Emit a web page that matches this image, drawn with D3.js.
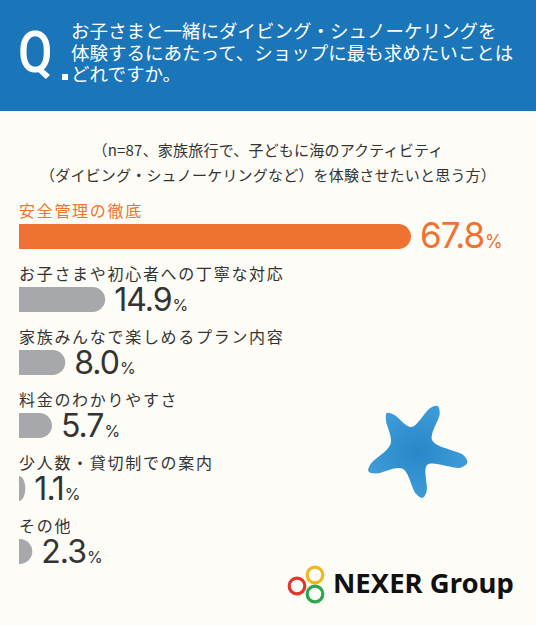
<!DOCTYPE html>
<html>
<head>
<meta charset="utf-8">
<script src="https://cdn.jsdelivr.net/npm/d3@7"></script>
<style>
  body { margin: 0; background: #fdfcf6; }
  svg { display: block; }
</style>
</head>
<body>
<svg class="chart"></svg>
<script>
// survey question + note
var titleLines = [
    "お子さまと一緒にダイビング・シュノーケリングを",
    "体験するにあたって、ショップに最も求めたいことは",
    "どれですか。"
];
var noteLines = [
    "（n=87、家族旅行で、子どもに海のアクティビティ",
    "（ダイビング・シュノーケリングなど）を体験させたいと思う方）"
];

// answers and share (%)
var categories = [
    "安全管理の徹底",
    "お子さまや初心者への丁寧な対応",
    "家族みんなで楽しめるプラン内容",
    "料金のわかりやすさ",
    "少人数・貸切制での案内",
    "その他"
];
var values = [67.8, 14.9, 8.0, 5.7, 1.1, 2.3];

var width = 536, height = 625;
var left = 19;
var jpFont = "'Noto Sans CJK JP', 'Noto Sans', sans-serif";
var numFont = "Inter, Lato, sans-serif";
var orange = "#f07232", grey = "#a7a8ab", ink = "#333333", blue = "#1b76b9";

var svg = d3.select(".chart")
    .attr("width", width)
    .attr("height", height);

svg.append("rect")
    .attr("width", width).attr("height", height)
    .attr("fill", "#fdfcf6");

// header band
svg.append("rect")
    .attr("width", width).attr("height", 111)
    .attr("fill", blue);

svg.append("text")
    .attr("x", 18).attr("y", 72)
    .attr("fill", "#fff")
    .attr("font-family", "Roboto, sans-serif")
    .attr("font-weight", 500)
    .attr("font-size", 57)
    .attr("transform", "translate(18,0) scale(0.88,1) translate(-18,0)")
    .text("Q");

svg.append("rect")
    .attr("x", 62).attr("y", 74)
    .attr("width", 6).attr("height", 6)
    .attr("fill", "#fff");

svg.append("g")
    .selectAll("text")
    .data(titleLines)
    .enter().append("text")
    .attr("x", 71)
    .attr("y", function (d, i) { return 38 + i * 21.5; })
    .attr("fill", "#fff")
    .attr("font-family", jpFont)
    .attr("font-size", 18.5)
    .text(function (d) { return d; });

svg.append("g")
    .selectAll("text")
    .data(noteLines)
    .enter().append("text")
    .attr("x", 268)
    .attr("y", function (d, i) { return 156 + i * 25; })
    .attr("text-anchor", "middle")
    .attr("fill", ink)
    .attr("font-family", jpFont)
    .attr("font-size", 15)
    .attr("letter-spacing", 0.2)
    .text(function (d) { return d; });

// scales
var x = d3.scaleLinear()
    .domain([0, d3.max(values)])
    .range([0, 392]);

var y = d3.scaleBand()
    .domain(categories)
    .range([224, 224 + 63 * (categories.length - 38 / 63)])
    .paddingInner(38 / 63)
    .paddingOuter(0);

function barPath(w, h) {
    var r = h / 2;
    var rx = Math.min(r, w);
    var flat = w - rx;
    return "M0,0 H" + flat +
        " A" + rx + "," + r + " 0 0 1 " + flat + "," + h +
        " H0 Z";
}

var rows = svg.append("g")
    .selectAll("g.row")
    .data(categories)
    .enter().append("g")
    .attr("class", "row")
    .attr("transform", function (d) { return "translate(" + left + "," + y(d) + ")"; });

rows.append("text")
    .attr("x", 0).attr("y", -7)
    .attr("fill", function (d, i) { return i === 0 ? orange : ink; })
    .attr("font-family", jpFont)
    .attr("font-size", 16)
    .attr("letter-spacing", 1.7)
    .text(function (d) { return d; });

rows.append("path")
    .attr("d", function (d, i) { return barPath(x(values[i]), y.bandwidth()); })
    .attr("fill", function (d, i) { return i === 0 ? orange : grey; });

var val = rows.append("text")
    .attr("x", function (d, i) { return x(values[i]) + 9; })
    .attr("y", y.bandwidth() - 1)
    .attr("fill", function (d, i) { return i === 0 ? orange : ink; })
    .attr("font-family", numFont);

val.append("tspan")
    .attr("font-size", function (d, i) { return i === 0 ? 35 : 32; })
    .attr("letter-spacing", -1)
    .text(function (d, i) { return values[i].toFixed(1); });

val.append("tspan")
    .attr("dx", 1)
    .attr("font-size", function (d, i) { return i === 0 ? 18 : 16; })
    .text("%");

// starfish decoration (angle in degrees, arm length)
var starCenter = [412, 449];
var starArms = [[-35, 44], [31, 50], [104, 57], [168, 50], [243, 49]];
var starPts = [];
var rad = Math.PI / 180;
starArms.forEach(function (a, i) {
    var next = starArms[(i + 1) % starArms.length];
    var nextAng = next[0] + (i === starArms.length - 1 ? 360 : 0);
    starPts.push([(a[0] - 7) * rad, a[1] - 5]);
    starPts.push([a[0] * rad, a[1]]);
    starPts.push([(a[0] + 7) * rad, a[1] - 5]);
    starPts.push([(a[0] + nextAng) / 2 * rad, 22]);
});

var grad = svg.append("defs").append("radialGradient")
    .attr("id", "starGrad");
grad.append("stop").attr("offset", "0%").attr("stop-color", "#2887c9");
grad.append("stop").attr("offset", "100%").attr("stop-color", "#3d9bd7");

svg.append("path")
    .attr("transform", "translate(" + starCenter + ")")
    .attr("d", d3.lineRadial().curve(d3.curveCatmullRomClosed.alpha(0.5))(starPts))
    .attr("fill", "url(#starGrad)");

// logo
var logo = svg.append("g");
var rings = [[315, 575, "#f2b71f"], [297, 586, "#e0362c"], [315, 594, "#2ba64a"]];
logo.selectAll("circle")
    .data(rings)
    .enter().append("circle")
    .attr("cx", function (d) { return d[0]; })
    .attr("cy", function (d) { return d[1]; })
    .attr("r", 7.8)
    .attr("fill", "none")
    .attr("stroke", function (d) { return d[2]; })
    .attr("stroke-width", 3.2);

logo.append("text")
    .attr("x", 333).attr("y", 593)
    .attr("fill", "#111")
    .attr("font-family", "'Noto Sans', sans-serif")
    .attr("font-weight", 700)
    .attr("font-size", 27.5)
    .text("NEXER Group");
</script>
</body>
</html>
